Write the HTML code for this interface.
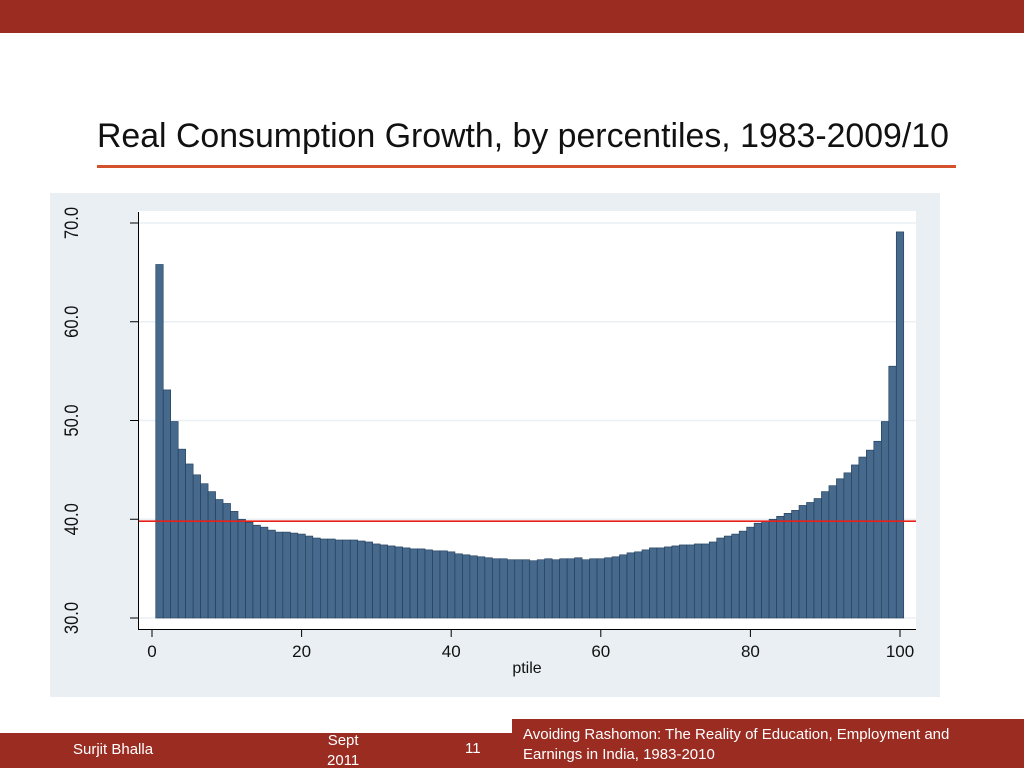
<!DOCTYPE html>
<html><head><meta charset="utf-8"><style>
body{margin:0;width:1024px;height:768px;overflow:hidden;background:#fff;font-family:"Liberation Sans",sans-serif;position:relative}
.abs{position:absolute}
.ft{font-family:"Liberation Sans Narrow","Liberation Sans",sans-serif;color:#fff;font-size:15px}
</style></head><body>
<div class="abs" style="left:0;top:0;width:1024px;height:33px;background:#9a2c22"></div>
<div class="abs" style="left:97px;top:119px;font-size:34px;line-height:1;color:#111;white-space:nowrap;transform-origin:0 0;transform:scaleX(0.995)">Real Consumption Growth, by percentiles, 1983-2009/10</div>
<div class="abs" style="left:97px;top:165px;width:859px;height:3px;background:#d4522b"></div>
<svg class="abs" style="left:0;top:0" width="1024" height="768">
<rect x="50" y="193" width="890" height="504" fill="#e9eff2"/>
<rect x="138" y="211" width="778" height="418" fill="#fff"/>
<g id="grid"></g><g id="bars"></g><g id="axes"></g>
</svg>
<div class="abs" style="left:0;top:733px;width:512px;height:35px;background:#9a2c22"></div>
<div class="abs" style="left:512px;top:719px;width:512px;height:49px;background:#9a2c22"></div>
<div class="abs ft" style="left:73px;top:741px">Surjit Bhalla</div>
<div class="abs ft" style="left:327px;top:731px;text-align:center;line-height:20px">Sept<br>2011</div>
<div class="abs ft" style="left:465px;top:740px">11</div>
<div class="abs ft" style="left:523px;top:725px;line-height:20px">Avoiding Rashomon: The Reality of Education, Employment and<br>Earnings in India, 1983-2010</div>
<script>
const ptiles=[];for(let i=1;i<=100;i++)ptiles.push(i);
const growth=[65.8,53.1,49.9,47.1,45.6,44.5,43.6,42.8,42.0,41.6,40.8,40.0,39.7,39.4,39.2,38.9,38.7,38.7,38.6,38.5,
38.3,38.1,38.0,38.0,37.9,37.9,37.9,37.8,37.7,37.5,37.4,37.3,37.2,37.1,37.0,37.0,36.9,36.8,36.8,36.7,
36.5,36.4,36.3,36.2,36.1,36.0,36.0,35.9,35.9,35.9,35.8,35.9,36.0,35.9,36.0,36.0,36.1,35.9,36.0,36.0,
36.1,36.2,36.4,36.6,36.7,36.9,37.1,37.1,37.2,37.3,37.4,37.4,37.5,37.5,37.7,38.1,38.3,38.5,38.8,39.2,
39.6,39.8,40.0,40.3,40.6,40.9,41.4,41.7,42.1,42.8,43.4,44.1,44.7,45.5,46.3,47.0,47.9,49.9,55.5,69.1];
const meanLine=39.8;
const yTicks=[30,40,50,60,70];
const yTickLabels=["30.0","40.0","50.0","60.0","70.0"];
const xTicks=[0,20,40,60,80,100];
const NS="http://www.w3.org/2000/svg";
const X=v=>152+v*7.48, Y=v=>618-(v-30)*9.875;
function mk(t,a,p){const e=document.createElementNS(NS,t);for(const k in a)e.setAttribute(k,a[k]);p.appendChild(e);return e;}
const g=document.getElementById('grid'),b=document.getElementById('bars'),ax=document.getElementById('axes');
yTicks.forEach((v,i)=>{
 const l=mk('line',{x1:139,x2:916,y1:Y(v),y2:Y(v),stroke:'#eaf0f3','stroke-width':1.5},g);
 
 
 const t=mk('line',{x1:130,x2:138,y1:Y(v),y2:Y(v),stroke:'#000'},ax);
 
 
 const tx=mk('text',{x:0,y:0,transform:`translate(78,${Y(v)}) rotate(-90) scale(0.92,1.1)`,'text-anchor':'middle','font-size':18,fill:'#111'},ax);
 tx.textContent=yTickLabels[i];
 
 
});
ptiles.forEach((p,i)=>{
 const r=mk('rect',{x:X(p-0.5),y:Y(growth[i]),width:7.48,height:Y(30)-Y(growth[i]),fill:'#46698c',stroke:'#1f3c5a','stroke-width':0.6},b);
 
 
});
const ml=mk('line',{x1:139,x2:916,y1:Y(meanLine),y2:Y(meanLine),stroke:'#e8201a','stroke-width':1.6},ax);


const la=mk('line',{x1:138.5,x2:138.5,y1:212,y2:630,stroke:'#000'},ax);


const ba=mk('line',{x1:138,x2:916,y1:629.5,y2:629.5,stroke:'#000'},ax);


xTicks.forEach(v=>{
 const t=mk('line',{x1:X(v),x2:X(v),y1:630,y2:637,stroke:'#000'},ax);
 
 
 const tx=mk('text',{x:X(v),y:657,'text-anchor':'middle','font-size':17,fill:'#111'},ax);
 tx.textContent=v;
 
 
});
const xt=mk('text',{x:527,y:673,'text-anchor':'middle','font-size':16,fill:'#111'},ax);
xt.textContent='ptile';


</script>
</body></html>
